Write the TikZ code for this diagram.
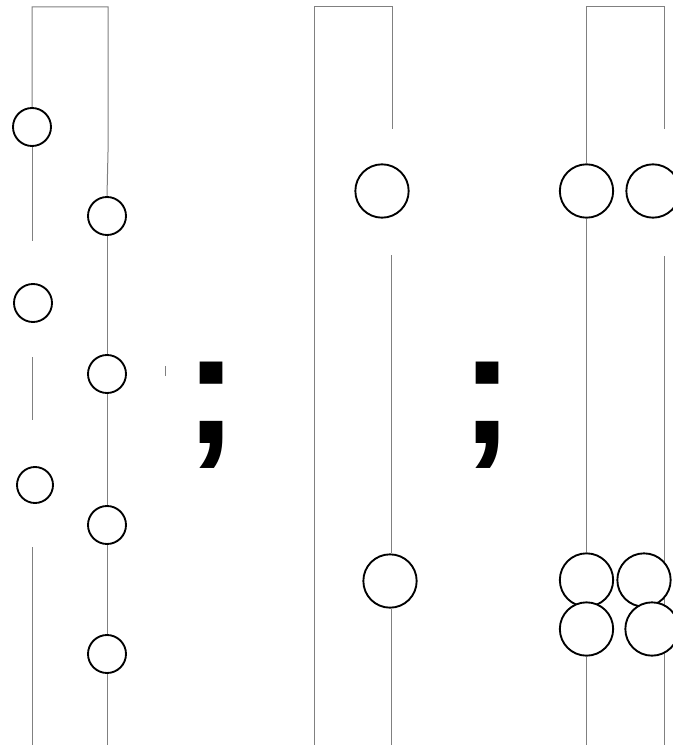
\documentclass[tikz,border=0pt]{standalone}
\usepackage{fontspec}
\newfontfamily\punctfont{Liberation Sans}
\usetikzlibrary{positioning, backgrounds}

\begin{document}
\begin{tikzpicture}[
  x=0.75pt, y=-0.75pt,
  bead/.style={circle, draw=black, line width=1.4pt, fill=white, inner sep=0pt, minimum size=28.5pt},
  bigbead/.style={bead, minimum size=40pt},
  strand/.style={draw=black!50, line width=0.75pt},
  punct/.style={inner sep=0pt, anchor=base, font=\punctfont\bfseries\fontsize{121}{121}\selectfont}
]
\useasboundingbox (0,0) rectangle (672,745);

% first panel
\node[bead] (a1) at (32,127) {};
\node[bead] (a2) at (33,303) {};
\node[bead, minimum size=27pt] (a3) at (35,485) {};
\node[bead] (b1) at (107,216) {};
\node[bead] (b2) at (107,374) {};
\node[bead] (b3) at (107,525) {};
\node[bead] (b4) at (107,654) {};
\coordinate (tick) at (165,366);

% second panel
\node[bigbead] (c1) at (382,191) {};
\node[bigbead] (c2) at (390,581) {};

% third panel
\node[bigbead] (d1) at (586.5,191) {};
\node[bigbead] (d2) at (653,191) {};
\node[bigbead] (e1) at (586.5,580) {};
\node[bigbead] (e2) at (644,580) {};
\node[bigbead] (e3) at (586.5,629) {};
\node[bigbead] (e4) at (652,629) {};

\node[punct] (semi1) at (211,443.5) {;};
\node[punct] (semi2) at (487,443.5) {;};

\begin{scope}[on background layer]
  \draw[strand] (a1.north) -- (32,7) -- (108,7) -- (108,152) -- (b1.north);
  \draw[strand] (a1.south) -- (32,241);
  \draw[strand] (32,357) -- (32,420);
  \draw[strand] (32,547) -- (32,745);
  \draw[strand] (b1.south) -- (b2.north);
  \draw[strand] (b2.south) -- (b3.north);
  \draw[strand] (b3.south) -- (b4.north);
  \draw[strand] (b4.south) -- (107,745);
  \draw[strand] (tick) -- ++(0,10);

  \draw[strand] (314,745) -- (314,7) -- (392,7) -- (392,129);
  \draw[strand] (391,255) -- (c2.north -| 391,0);
  \draw[strand] (c2.south -| 391,0) -- (391,745);

  \draw[strand] (d1.north) -- (586.5,7) -- (664,7) -- (664,129);
  \draw[strand] (d1.south) -- (e1.north);
  \draw[strand] (e3.south) -- (586.5,745);
  \draw[strand] (664,256) -- (664,745);
\end{scope}
\end{tikzpicture}
\end{document}
